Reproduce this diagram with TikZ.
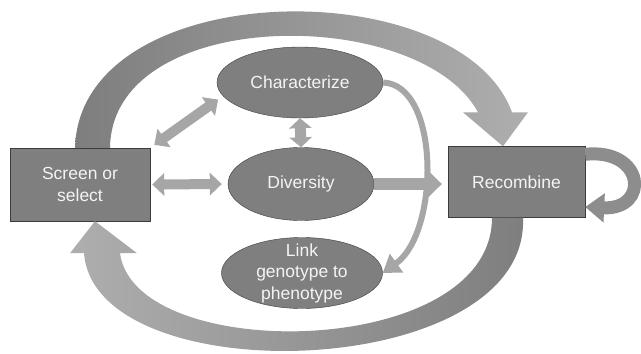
\documentclass[tikz,border=0pt]{standalone}
\usepackage{fontspec}
\setmainfont{Liberation Sans}
\usetikzlibrary{arrows.meta,positioning,shapes.geometric,calc}
\definecolor{boxgray}{HTML}{7F7F7F}
\definecolor{rimgray}{HTML}{3C3C3C}
\definecolor{flowgray}{HTML}{A6A6A6}
\definecolor{arcdark}{HTML}{7E7E7E}
\definecolor{arclight}{HTML}{AEAEAE}
\definecolor{labelwhite}{HTML}{F4F4F4}

\begin{document}
\begin{tikzpicture}[x=1pt,y=-1pt,
	stagebox/.style={draw=rimgray, fill=boxgray, text=labelwhite, align=center, inner sep=0pt,
		font=\fontsize{17.5}{21.5}\selectfont},
	stepbox/.style={stagebox, rectangle, minimum width=140pt, minimum height=73pt},
	ovalbox/.style={stagebox, ellipse},
	flow/.style={draw=flowgray, line width=12pt, -{Triangle[width=25pt,length=13pt]}},
	twoway/.style={draw=flowgray, line width=10pt,
		{Triangle[width=22pt,length=12pt]}-{Triangle[width=22pt,length=12pt]}}]
	\useasboundingbox (0,0) rectangle (641,354);
	
	% Stages
	\node[stepbox] (scr) at (80,184.5) {Screen or\\select};
	\node[stepbox, minimum width=137pt, minimum height=71pt] (rec) at (516.5,182) {Recombine};
	\node[ovalbox, minimum width=166pt, minimum height=71pt] (char) at (300,82.5) {Characterize};
	\node[ovalbox, minimum width=146pt, minimum height=73pt] (div) at (301,184) {Diversity};
	\node[ovalbox, minimum width=161pt, minimum height=71pt, inner ysep=-7pt] (link) at (302,273) {Link\\genotype to\\phenotype};
	
	% Big loop over the top
	\shade[left color=arcdark, right color=arclight]
		($(scr.north)+(-5,0)$) .. controls (80,-25) and (460,-30) .. ($(rec.north)+(-4.5,-34)$)
		-- ($(rec.north)+(11.5,-34)$) -- ($(rec.north)+(-13.5,0)$) -- ($(rec.north)+(-53.5,-34)$)
		-- ($(rec.north)+(-38.5,-34)$) .. controls (420,5) and (112,5) .. ($(scr.north)+(30,0)$) -- cycle;
	
	% Big loop underneath
	\shade[left color=arclight, right color=arcdark]
		($(rec.south)+(6.5,0)$) .. controls (530,382) and (95,395) .. ($(scr.south)+(4,32)$)
		-- ($(scr.south)+(-10,32)$) -- ($(scr.south)+(15,0)$) -- ($(scr.south)+(57,32)$)
		-- ($(scr.south)+(40,32)$) .. controls (135,365) and (492,360) .. ($(rec.south)+(-24.5,0)$) -- cycle;
	
	% Recombine back onto itself
	\draw[draw=flowgray!85!black, line width=13pt, -{Triangle[width=28pt,length=19pt]}]
		([yshift=-8pt]rec.north east) .. controls (645,148) and (650,210) .. ([yshift=-25pt]rec.east);
	
	% Characterize on to the genotype link
	\draw[draw=flowgray, line width=6pt, -{Triangle[width=22pt,length=17pt]}]
		(char.east) .. controls (440,85) and (440,232) .. (link.east);
	
	% Straight arrows
	\draw[flow, shorten >=6pt] (div.east) -- (rec.west |- div.east);
	\draw[twoway, shorten <=2pt, shorten >=6pt] (scr.east) -- (div.west);
	\draw[twoway, shorten <=5pt, shorten >=6pt] (scr.north east) -- (char.190);
	\draw[draw=flowgray, line width=11pt,
		{Triangle[width=22pt,length=10pt]}-{Triangle[width=22pt,length=10pt]}] (char.south) -- (div.north);
\end{tikzpicture}
\end{document}
